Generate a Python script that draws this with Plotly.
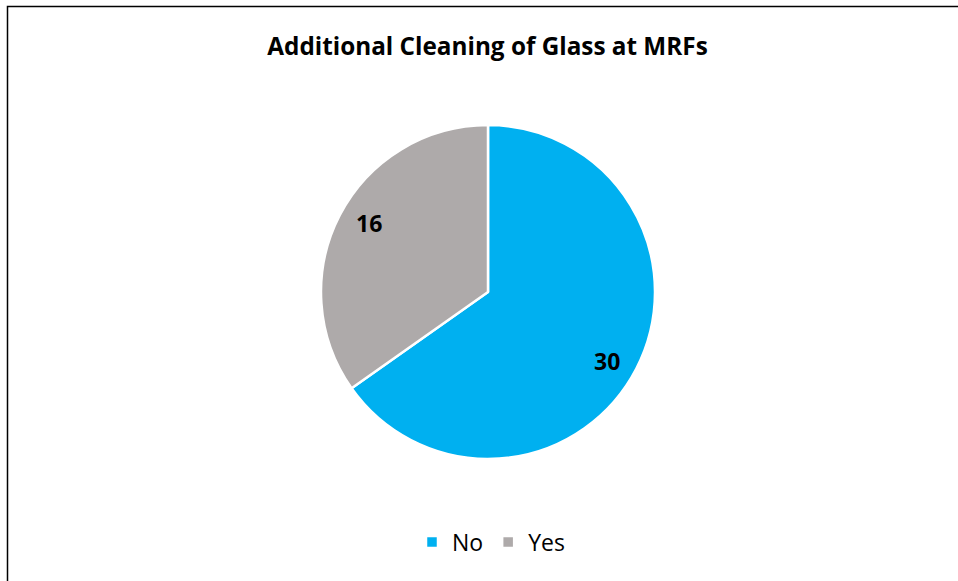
import math
import plotly.graph_objects as go

labels = ["No", "Yes"]
values = [30, 16]
colors = ["#00B0F0", "#AEAAAA"]
title_text = "Additional Cleaning of Glass at MRFs"

W, H = 958, 581
cx, cy, r = 488, 292, 167
FONT = "Open Sans"
LABEL_FRAC = 0.80

fig = go.Figure(go.Pie(
    labels=labels,
    values=values,
    marker=dict(colors=colors, line=dict(color="white", width=2.5)),
    sort=False,
    direction="clockwise",
    rotation=0,
    textinfo="none",
    hoverinfo="label+value",
    domain=dict(x=[(cx - r) / W, (cx + r) / W], y=[1 - (cy + r) / H, 1 - (cy - r) / H]),
))

# data labels placed along each slice's mid-angle (derived from the values)
total = sum(values)
annotations = []
cum = 0
for v in values:
    mid = (cum + v / 2) / total * 2 * math.pi  # clockwise from 12 o'clock
    cum += v
    px = cx + math.sin(mid) * r * LABEL_FRAC
    py = cy - math.cos(mid) * r * LABEL_FRAC * 1.12
    annotations.append(dict(x=px / W, y=1 - py / H, xref="paper", yref="paper", text="<b>%d</b>" % v,
                            showarrow=False, xanchor="center", yanchor="middle",
                            font=dict(family=FONT, size=23, color="black")))

fig.update_layout(
    width=W, height=H,
    margin=dict(l=0, r=0, t=0, b=0),
    paper_bgcolor="white",
    title=dict(text="<b>" + title_text + "</b>", x=487.5 / W, xanchor="center", y=1 - 46 / H, yanchor="middle",
               font=dict(family=FONT, size=24.3, color="black")),
    legend=dict(orientation="h", x=491 / W, xanchor="center", y=1 - 542 / H, yanchor="middle",
                font=dict(family=FONT, size=23, color="black"), traceorder="normal"),
    annotations=annotations,
    shapes=[dict(type="rect", xref="paper", yref="paper", x0=7.5 / W, x1=1.05, y0=-0.05, y1=1 - 6.5 / H,
                 line=dict(color="black", width=1.5), fillcolor="rgba(0,0,0,0)")],
)

fig.write_html("out.html", config={"displayModeBar": False},
               post_script="document.body.style.margin='0';document.body.style.overflow='hidden';")
